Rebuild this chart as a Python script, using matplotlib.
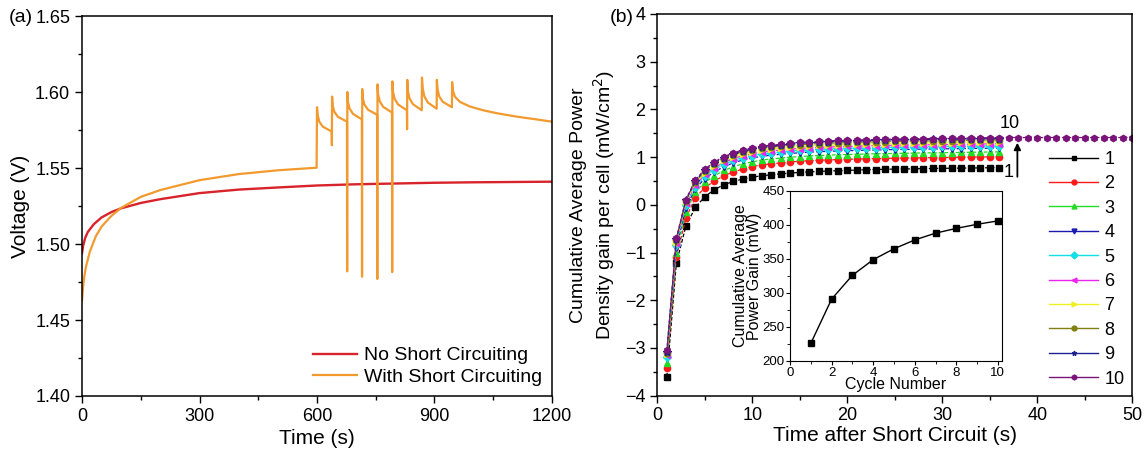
import matplotlib.pyplot as plt
import numpy as np
from matplotlib.ticker import MultipleLocator

plt.rcParams['font.family'] = ['Liberation Sans', 'DejaVu Sans']

# ---- (a) voltage vs time ----
red_t = [0, 3, 8, 15, 30, 50, 75, 100, 150, 200, 300, 400, 500, 600, 700, 800, 900, 1000, 1100, 1200]
red_v = [1.494, 1.499, 1.504, 1.508, 1.513, 1.5175, 1.521, 1.5235, 1.527, 1.5295, 1.5335, 1.5358,
         1.5372, 1.5385, 1.5393, 1.5398, 1.5403, 1.5406, 1.5408, 1.541]

orange_pts = [(0, 1.463), (3, 1.4725), (6, 1.479), (10, 1.485), (20, 1.495), (35, 1.505), (50, 1.5115),
              (75, 1.5185), (100, 1.5238), (150, 1.531), (200, 1.5355), (300, 1.542), (400, 1.546),
              (500, 1.5485), (599, 1.5502),
              (600, 1.590), (602, 1.5844), (606, 1.5804), (615, 1.5772), (637.5, 1.574), (638, 1.565), (638.5, 1.597),
              (640, 1.5912), (644, 1.5871), (653, 1.5838), (676.5, 1.5805), (677, 1.482), (677.5, 1.600),
              (679, 1.5937), (683, 1.5892), (692, 1.5856), (714.5, 1.582), (715, 1.4785), (715.5, 1.602),
              (717, 1.596), (721, 1.5918), (730, 1.5884), (753.5, 1.585), (754, 1.477), (754.5, 1.605),
              (756, 1.5985), (760, 1.594), (769, 1.5902), (791.5, 1.5865), (792, 1.4815), (792.5, 1.607),
              (794, 1.6004), (798, 1.5956), (807, 1.5918), (829.5, 1.588), (830, 1.5755), (830.5, 1.608),
              (832, 1.601), (836, 1.596), (845, 1.592), (867.5, 1.588), (868, 1.6095),
              (870, 1.6023), (874, 1.5972), (883, 1.5931), (905.5, 1.589), (906, 1.608),
              (908, 1.6017), (912, 1.5972), (921, 1.5936), (944.5, 1.590), (945, 1.6065),
              (947, 1.601), (952, 1.597), (965, 1.5935), (990, 1.5905), (1024, 1.588), (1060, 1.586),
              (1110, 1.5838), (1160, 1.582), (1200, 1.5805)]
orange_t = [p[0] for p in orange_pts]
orange_v = [p[1] for p in orange_pts]

# ---- (b) cumulative power density gain, one series per cycle ----
t_short = np.arange(1, 37)
t_long = np.arange(1, 51)
g1 = [-3.60, -1.22, -0.45, -0.05, 0.17, 0.32, 0.42, 0.49, 0.54, 0.58, 0.61, 0.63, 0.65, 0.665, 0.68, 0.69,
      0.70, 0.71, 0.715, 0.72, 0.73, 0.735, 0.74, 0.745, 0.75, 0.752, 0.755, 0.76, 0.762, 0.765, 0.768, 0.77,
      0.772, 0.775, 0.778, 0.78]
g2 = [-3.42, -1.10, -0.28, 0.15, 0.36, 0.50, 0.61, 0.69, 0.75, 0.80, 0.84, 0.86, 0.88, 0.90, 0.915, 0.925,
      0.935, 0.94, 0.95, 0.955, 0.96, 0.965, 0.97, 0.973, 0.976, 0.98, 0.983, 0.986, 0.99, 0.992, 0.995, 0.998,
      1.0, 1.003, 1.006, 1.01]
g3 = [-3.32, -1.00, -0.16, 0.27, 0.47, 0.61, 0.72, 0.80, 0.86, 0.90, 0.94, 0.96, 0.98, 1.0, 1.01, 1.025,
      1.035, 1.04, 1.05, 1.055, 1.06, 1.065, 1.07, 1.075, 1.078, 1.082, 1.085, 1.088, 1.09, 1.093, 1.096, 1.099,
      1.102, 1.105, 1.108, 1.11]
g4 = [-3.22, -0.90, -0.06, 0.34, 0.55, 0.69, 0.80, 0.88, 0.94, 0.98, 1.02, 1.04, 1.06, 1.08, 1.09, 1.105,
      1.115, 1.12, 1.13, 1.135, 1.14, 1.145, 1.15, 1.155, 1.158, 1.162, 1.165, 1.168, 1.17, 1.173, 1.176, 1.179,
      1.182, 1.185, 1.188, 1.19]
g5 = [-3.18, -0.85, 0.0, 0.38, 0.60, 0.74, 0.85, 0.93, 0.99, 1.03, 1.07, 1.09, 1.11, 1.13, 1.14, 1.155,
      1.165, 1.17, 1.18, 1.185, 1.19, 1.195, 1.2, 1.205, 1.208, 1.212, 1.215, 1.218, 1.22, 1.223, 1.226, 1.229,
      1.232, 1.235, 1.238, 1.24]
g6 = [-3.15, -0.80, 0.03, 0.42, 0.64, 0.78, 0.89, 0.97, 1.03, 1.07, 1.11, 1.13, 1.15, 1.17, 1.18, 1.195,
      1.205, 1.21, 1.22, 1.225, 1.23, 1.235, 1.24, 1.245, 1.248, 1.252, 1.255, 1.258, 1.26, 1.263, 1.266, 1.269,
      1.272, 1.275, 1.278, 1.28]
g7 = [-3.13, -0.77, 0.06, 0.45, 0.67, 0.82, 0.93, 1.01, 1.07, 1.11, 1.15, 1.17, 1.19, 1.21, 1.22, 1.235,
      1.245, 1.25, 1.26, 1.265, 1.27, 1.275, 1.28, 1.285, 1.288, 1.292, 1.295, 1.298, 1.30, 1.303, 1.306, 1.309,
      1.312, 1.315, 1.318, 1.32]
g8 = [-3.10, -0.74, 0.08, 0.48, 0.71, 0.86, 0.97, 1.05, 1.11, 1.15, 1.19, 1.21, 1.23, 1.25, 1.26, 1.275,
      1.285, 1.29, 1.30, 1.305, 1.31, 1.315, 1.32, 1.325, 1.328, 1.332, 1.335, 1.338, 1.34, 1.343, 1.346, 1.349,
      1.352, 1.355, 1.358, 1.36]
g9 = [-3.08, -0.72, 0.10, 0.50, 0.73, 0.88, 0.99, 1.07, 1.13, 1.17, 1.21, 1.23, 1.25, 1.27, 1.29, 1.30,
      1.31, 1.32, 1.33, 1.335, 1.34, 1.345, 1.35, 1.355, 1.358, 1.362, 1.365, 1.368, 1.37, 1.373, 1.376, 1.379,
      1.382, 1.385, 1.388, 1.39]
g10 = [-3.05, -0.70, 0.11, 0.52, 0.75, 0.90, 1.01, 1.09, 1.15, 1.19, 1.23, 1.25, 1.27, 1.29, 1.31, 1.32,
       1.33, 1.34, 1.35, 1.355, 1.36, 1.365, 1.37, 1.375, 1.378, 1.382, 1.385, 1.388, 1.39, 1.393, 1.396, 1.399,
       1.402, 1.405, 1.408, 1.41, 1.41, 1.41, 1.41, 1.41, 1.41, 1.41, 1.41, 1.41, 1.41, 1.41, 1.41, 1.41,
       1.41, 1.41]
series_labels = ['1', '2', '3', '4', '5', '6', '7', '8', '9', '10']

# inset
cycles = [1, 2, 3, 4, 5, 6, 7, 8, 9, 10]
power_gain = [226, 291, 326, 349, 365, 378, 388, 395, 401, 406]

colors = ['#000000', '#ff1a1a', '#22dd22', '#1a1ab0', '#10e0e8', '#ee22ee', '#f0f020', '#808010', '#202090', '#7a137a']
markers = ['s', 'o', '^', 'v', 'D', '<', '>', 'o', '*', 'h']

fig = plt.figure(figsize=(11.44, 4.5), dpi=100)

# ---------- panel (a) ----------
ax1 = fig.add_axes([0.0717, 0.12, 0.4108, 0.8444])
ax1.plot(red_t, red_v, color='#d8232a', lw=1.7, label='No Short Circuiting')
ax1.plot(orange_t, orange_v, color='#f29a2e', lw=1.6, label='With Short Circuiting')
ax1.set_xlim(0, 1200)
ax1.set_ylim(1.40, 1.65)
ax1.xaxis.set_major_locator(MultipleLocator(300))
ax1.xaxis.set_minor_locator(MultipleLocator(150))
ax1.yaxis.set_major_locator(MultipleLocator(0.05))
ax1.yaxis.set_minor_locator(MultipleLocator(0.025))
ax1.yaxis.set_major_formatter(plt.FormatStrFormatter('%.2f'))
ax1.set_xlabel('Time (s)', fontsize=15, labelpad=3)
ax1.set_ylabel('Voltage (V)', fontsize=15, labelpad=4)
ax1.legend(loc='lower right', frameon=False, fontsize=14, handlelength=2.3,
           handletextpad=0.35, labelspacing=0.22, borderaxespad=0.1)
fig.text(0.008, 0.962, '(a)', fontsize=14, va='center')

# ---------- panel (b) ----------
ax2 = fig.add_axes([0.5746, 0.1207, 0.4152, 0.8482])
all_g = [g1, g2, g3, g4, g5, g6, g7, g8, g9, g10]
for i, g in enumerate(all_g):
    tt = t_long if len(g) == len(t_long) else t_short
    ax2.plot(tt, g, color=colors[i], marker=markers[i], ms=4.5 if markers[i] != '*' else 6,
             lw=0.9, ls=(0, (3, 1.5)), label=series_labels[i])
ax2.set_xlim(0, 50)
ax2.set_ylim(-4, 4)
ax2.xaxis.set_major_locator(MultipleLocator(10))
ax2.xaxis.set_minor_locator(MultipleLocator(5))
ax2.yaxis.set_major_locator(MultipleLocator(1))
ax2.yaxis.set_minor_locator(MultipleLocator(0.5))
ax2.set_xlabel('Time after Short Circuit (s)', fontsize=15, labelpad=1)
ax2.set_ylabel('Cumulative Average Power\nDensity gain per cell (mW/cm$^2$)', fontsize=14, labelpad=6)
fig.text(0.533, 0.962, '(b)', fontsize=14, va='center')

# legend with solid lines
handles = [plt.Line2D([], [], color=colors[i], marker=markers[i], ms=3.5, lw=1.0) for i in range(10)]
ax2.legend(handles, series_labels, loc='upper left', bbox_to_anchor=(0.81, 0.66), frameon=False,
           fontsize=13, handlelength=2.7, handletextpad=0.35, labelspacing=0.41, borderaxespad=0)

# arrow from cycle 1 to cycle 10
ax2.annotate('', xy=(37.9, 1.36), xytext=(37.9, 0.53),
             arrowprops=dict(arrowstyle='-|>', color='black', lw=1.3, mutation_scale=10))
ax2.text(37.1, 1.70, '10', fontsize=13, ha='center', va='center')
ax2.text(37.0, 0.67, '1', fontsize=13, ha='center', va='center')

for ax in (ax1, ax2):
    ax.tick_params(axis='both', which='major', direction='out', length=5, width=1, labelsize=13,
                   top=False, right=False)
    ax.tick_params(axis='both', which='minor', direction='out', length=3, width=1, top=False, right=False)
    for sp in ax.spines.values():
        sp.set_linewidth(1.1)

# ---------- inset ----------
axi = fig.add_axes([0.6906, 0.1978, 0.1853, 0.3778])
axi.plot(cycles, power_gain, color='black', marker='s', ms=4.5, lw=1.0)
axi.set_xlim(0, 10.2)
axi.set_ylim(200, 450)
axi.xaxis.set_major_locator(MultipleLocator(2))
axi.xaxis.set_minor_locator(MultipleLocator(1))
axi.yaxis.set_major_locator(MultipleLocator(50))
axi.yaxis.set_minor_locator(MultipleLocator(25))
axi.tick_params(which='major', direction='out', length=3, labelsize=9.5, pad=1, top=False, right=False)
axi.tick_params(which='minor', direction='out', length=2, top=False, right=False)
axi.set_xlabel('Cycle Number', fontsize=11.5, labelpad=-1)
axi.set_ylabel('Cumulative Average\nPower Gain (mW)', fontsize=11.5, labelpad=0, linespacing=0.95)

fig.savefig('out.png', dpi=100)
